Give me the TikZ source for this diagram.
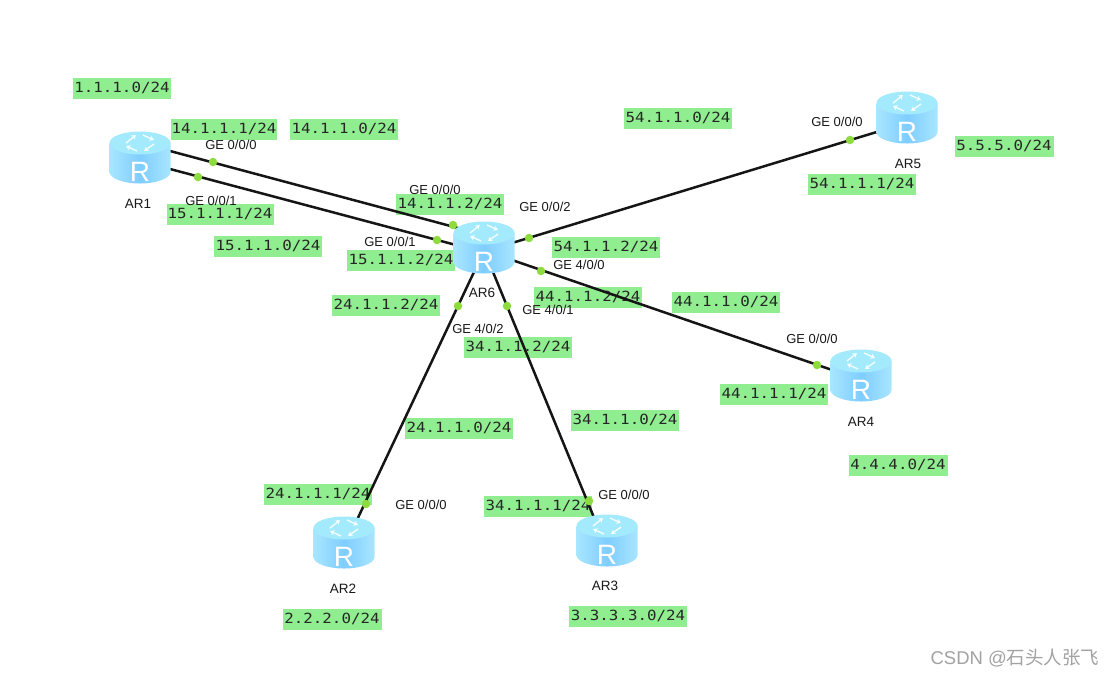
\documentclass[tikz,border=0pt]{standalone}
\usepackage{fontspec}
\setmainfont{Liberation Sans}
\newfontfamily\lblmono[FakeStretch=1.13]{DejaVu Sans Mono}
\newfontfamily\cjkfont{Noto Sans CJK SC}
\usetikzlibrary{arrows.meta}
\definecolor{netgreen}{HTML}{90EE90}
\definecolor{dotgreen}{HTML}{8EDB3F}
\definecolor{linkblack}{HTML}{151515}
\definecolor{rtop}{HTML}{A3EBFC}
\definecolor{rside}{HTML}{7FCDFF}
\definecolor{rlight}{HTML}{A8E6FF}
\definecolor{wmgray}{HTML}{A2A2A2}
\tikzset{
  x=1pt,y=-1pt,
  net/.style={fill=netgreen,inner xsep=0pt,inner ysep=0pt,minimum height=21pt,font=\lblmono\fontsize{14}{14}\selectfont,text=black!85},
  port/.style={font=\fontsize{13}{13}\selectfont,text=black!90,inner sep=0pt},
  devname/.style={font=\fontsize{13.5}{13.5}\selectfont,text=black!90,inner sep=0pt},
  link/.style={draw=linkblack,line width=2.5pt},
  pdot/.style={circle,fill=dotgreen,inner sep=0pt,minimum size=8.5pt},
  rtr/.style={rectangle,inner sep=0pt,minimum width=61pt,minimum height=52pt},
  rarrow/.style={draw=white,opacity=.85,line width=1.4pt,-{Stealth[length=4.5pt,width=5.5pt]}},
  pics/routericon/.style={code={
    \path[left color=rlight,right color=rlight,middle color=rside]
      (-30.5,-15) -- (-30.5,14) arc[start angle=180,end angle=0,x radius=30.5,y radius=11.5] -- (30.5,-15) -- cycle;
    \path[fill=rtop] (0,-15) ellipse[x radius=30.5,y radius=11.5];
    \draw[rarrow] (-14,-15) -- (-4,-23);
    \draw[rarrow] (3,-23) -- (14,-18);
    \draw[rarrow] (14,-14) -- (4,-7);
    \draw[rarrow] (-3,-7) -- (-14,-12);
    \node[text=white,inner sep=0pt,font=\fontsize{28}{28}\selectfont] (-letter) at (0,14) {R};
  }}
}
\begin{document}
\begin{tikzpicture}
\useasboundingbox[fill=white] (0,0) rectangle (1116,678);
% network labels
\node[net,minimum width=98pt] (n1) at (122,88) {1.1.1.0/24};
\node[net,minimum width=106pt] (n2) at (224,129) {14.1.1.1/24};
\node[net,minimum width=108pt] (n3) at (344,129) {14.1.1.0/24};
\node[net,minimum width=108pt] (n4) at (678,118) {54.1.1.0/24};
\node[net,minimum width=108pt] (n5) at (862,184) {54.1.1.1/24};
\node[net,minimum width=99pt] (n6) at (1004,146) {5.5.5.0/24};
\node[net,minimum width=107pt] (n7) at (220,214) {15.1.1.1/24};
\node[net,minimum width=108pt] (n8) at (268,246) {15.1.1.0/24};
\node[net,minimum width=108pt] (n9) at (450,204) {14.1.1.2/24};
\node[net,minimum width=108pt] (n10) at (401,260) {15.1.1.2/24};
\node[net,minimum width=108pt] (n11) at (606,247) {54.1.1.2/24};
\node[net,minimum width=108pt] (n12) at (588,297) {44.1.1.2/24};
\node[net,minimum width=108pt] (n13) at (726,302) {44.1.1.0/24};
\node[net,minimum width=108pt] (n14) at (386,305) {24.1.1.2/24};
\node[net,minimum width=108pt] (n15) at (518,347) {34.1.1.2/24};
\node[net,minimum width=108pt] (n16) at (774,394) {44.1.1.1/24};
\node[net,minimum width=108pt] (n17) at (625,420) {34.1.1.0/24};
\node[net,minimum width=108pt] (n18) at (459,428) {24.1.1.0/24};
\node[net,minimum width=99pt] (n19) at (898,465) {4.4.4.0/24};
\node[net,minimum width=108pt] (n20) at (318,494) {24.1.1.1/24};
\node[net,minimum width=108pt] (n21) at (538,506) {34.1.1.1/24};
\node[net,minimum width=99pt] (n22) at (332,619) {2.2.2.0/24};
\node[net,minimum width=118pt] (n23) at (628,616) {3.3.3.3.0/24};
% routers as anchors
\node[rtr] (ar1) at (140,158) {};
\node[rtr] (ar2) at (344,543) {};
\node[rtr] (ar3) at (607,541) {};
\node[rtr] (ar4) at (861,376) {};
\node[rtr] (ar5) at (907,118) {};
\node[rtr] (ar6) at (484,248) {};
% connector ends at router edges
\coordinate (e1a) at (170,151);
\coordinate (e1b) at (170,169);
\coordinate (e6a) at (458,228);
\coordinate (e6b) at (456,245);
\coordinate (e6c) at (512,243);
\coordinate (e5) at (880,131);
\coordinate (e6d) at (512,260);
\coordinate (e4) at (838,372);
\coordinate (e6e) at (474,272);
\coordinate (e2) at (356,522);
\coordinate (e6f) at (493,272);
\coordinate (e3) at (595,520);
% links
\draw[link] (e1a) -- (e6a);
\draw[link] (e1b) -- (e6b);
\draw[link] (e6c) -- (e5);
\draw[link] (e6d) -- (e4);
\draw[link] (e6e) -- (e2);
\draw[link] (e6f) -- (e3);
% router icons
\pic (i1) at (ar1) {routericon};
\pic (i2) at (ar2) {routericon};
\pic (i3) at (ar3) {routericon};
\pic (i4) at (ar4) {routericon};
\pic (i5) at (ar5) {routericon};
\pic (i6) at (ar6) {routericon};
% port dots
\node[pdot] (d1) at (213,162) {};
\node[pdot] (d2) at (198,177) {};
\node[pdot] (d3) at (453,225) {};
\node[pdot] (d4) at (437,240) {};
\node[pdot] (d5) at (529,238) {};
\node[pdot] (d6) at (541,271) {};
\node[pdot] (d7) at (507,306) {};
\node[pdot] (d8) at (458,306) {};
\node[pdot] (d9) at (850,140) {};
\node[pdot] (d10) at (817,365) {};
\node[pdot] (d11) at (366,504) {};
\node[pdot] (d12) at (589,501) {};
% port and device labels
\node[port] (p1) at (231,145) {GE 0/0/0};
\node[port] (p2) at (211,201) {GE 0/0/1};
\node[port] (p3) at (435,190) {GE 0/0/0};
\node[port] (p4) at (545,207) {GE 0/0/2};
\node[port] (p5) at (390,242) {GE 0/0/1};
\node[port] (p6) at (579,265) {GE 4/0/0};
\node[port] (p7) at (548,310) {GE 4/0/1};
\node[port] (p8) at (478,329) {GE 4/0/2};
\node[port] (p9) at (812,339) {GE 0/0/0};
\node[port] (p10) at (837,122) {GE 0/0/0};
\node[port] (p11) at (421,505) {GE 0/0/0};
\node[port] (p12) at (624,495) {GE 0/0/0};
\node[devname] (l1) at (138,204) {AR1};
\node[devname] (l2) at (343,589) {AR2};
\node[devname] (l3) at (605,586) {AR3};
\node[devname] (l4) at (861,422) {AR4};
\node[devname] (l5) at (908,164) {AR5};
\node[devname] (l6) at (482,293) {AR6};
\node[inner sep=0pt,text=wmgray,font=\fontsize{18.5}{18.5}\selectfont] (wm) at (1015,658) {CSDN @{\cjkfont 石头人张飞}};
\end{tikzpicture}
\end{document}
